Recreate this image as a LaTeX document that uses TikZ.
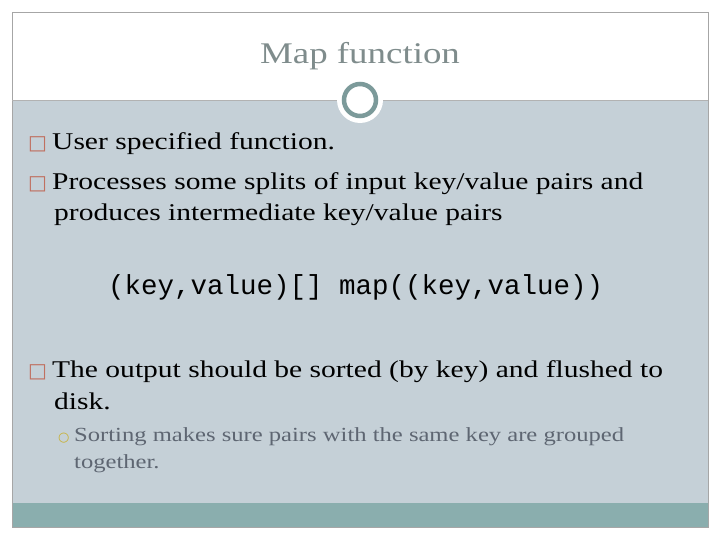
\documentclass[tikz,border=0pt]{standalone}
\usepackage{fontspec}
\setmainfont[FakeStretch=1.23]{Liberation Serif}
\setmonofont{Liberation Mono}
\newfontfamily\dvs{DejaVu Sans}
\definecolor{bodyc}{HTML}{C5D0D7}
\definecolor{barc}{HTML}{8AAEAE}
\definecolor{ringc}{HTML}{7C9A9A}
\definecolor{titlec}{HTML}{7F8C8C}
\definecolor{bulc}{HTML}{C07060}
\definecolor{subc}{HTML}{5E6672}
\definecolor{subb}{HTML}{C8B030}
\begin{document}
\begin{tikzpicture}[x=1pt,y=-1pt,
  txt/.style={anchor=base west,inner sep=0,font=\fontsize{24}{24}\selectfont},
  sub/.style={anchor=base west,inner sep=0,font=\fontsize{20}{20}\selectfont,text=subc},
  bul/.style={anchor=base west,inner sep=0,font=\dvs\fontsize{20}{20}\selectfont,text=bulc}]
\useasboundingbox (0,0) rectangle (720,540);
\fill[white] (0,0) rectangle (720,540);
\fill[bodyc] (12,101) rectangle (708,503);
\fill[barc] (12,503) rectangle (708,527);
\draw[gray!70,line width=0.8] (12,12) rectangle (708,527);
\draw[gray!60,line width=0.8] (12,100) -- (708,100);
\fill[white] (360,100) circle (23);
\draw[ringc,line width=4.5] (360,100) circle (16);
\node (title) at (360,56) [inner sep=0,text=titlec,font=\fontsize{30}{30}\selectfont] {Map function};
\node (b1) at (28,150) [bul] {□};
\node (t1) at (52,150) [txt] {User specified function.};
\node (b2) at (28,190) [bul] {□};
\node (t2) at (52,190) [txt] {Processes some splits of input key/value pairs and};
\node (t2b) at (54,221) [txt] {produces intermediate key/value pairs};
\node (code) at (108,294) [anchor=base west,inner sep=0,font=\ttfamily\fontsize{27.5}{28}\selectfont] {(key,value)[] map((key,value))};
\node (b3) at (28,377) [bul] {□};
\node (t3) at (52,377) [txt] {The output should be sorted (by key) and flushed to};
\node (t3b) at (54,409) [txt] {disk.};
\node (b4) at (58,441) [anchor=base west,inner sep=0,font=\dvs\fontsize{13}{13}\selectfont,text=subb] {○};
\node (t4) at (74,441) [sub] {Sorting makes sure pairs with the same key are grouped};
\node (t4b) at (74,468) [sub] {together.};
\end{tikzpicture}
\end{document}
